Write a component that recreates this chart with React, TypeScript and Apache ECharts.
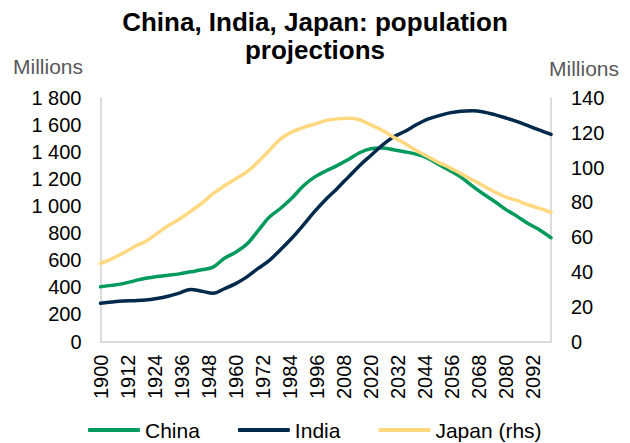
import React, { useEffect, useRef } from "react";
import * as echarts from "echarts";

// Years sampled every five years, 1900–2100
const years = [
  1900, 1905, 1910, 1915, 1920, 1925, 1930, 1935, 1940, 1945,
  1950, 1955, 1960, 1965, 1970, 1975, 1980, 1985, 1990, 1995,
  2000, 2005, 2010, 2015, 2020, 2025, 2030, 2035, 2040, 2045,
  2050, 2055, 2060, 2065, 2070, 2075, 2080, 2085, 2090, 2095, 2100,
];

// Population, millions (left axis)
const china = [
  405, 415, 428, 448, 468, 480, 490, 500, 515, 530,
  550, 615, 660, 720, 820, 920, 985, 1060, 1150, 1215,
  1260, 1300, 1345, 1395, 1425, 1430, 1418, 1403, 1385, 1358,
  1310, 1265, 1215, 1150, 1090, 1035, 975, 925, 870, 825, 767,
];

const india = [
  282, 292, 300, 302, 306, 318, 335, 358, 385, 372,
  356, 390, 428, 478, 540, 600, 680, 765, 860, 960,
  1050, 1130, 1215, 1300, 1375, 1450, 1512, 1552, 1600, 1642,
  1668, 1690, 1702, 1705, 1697, 1677, 1652, 1625, 1594, 1562, 1531,
];

// Population, millions (right axis)
const japan = [
  45, 47.5, 50.8, 54.5, 57.5, 62, 66.5, 70.3, 74.8, 79.5,
  85, 89.5, 93.5, 97.5, 103.3, 110, 116.5, 120.5, 123, 125,
  127, 128, 128.3, 127.5, 124.5, 121.5, 117.5, 114, 110, 106.5,
  103, 100, 96.5, 93, 89.5, 86, 83, 81, 78.5, 76.5, 74.3,
];

const seriesNames = ["China", "India", "Japan (rhs)"];
const seriesColors = ["#009A5E", "#002A4B", "#FFD880"];

const FONT = "'Liberation Sans', Arial, sans-serif";
const AXIS_GREY = "#D0D0D0";

const withSpace = (v: number) =>
  String(v).replace(/\B(?=(\d{3})+(?!\d))/g, " ");

export default function App() {
  const ref = useRef<HTMLDivElement>(null);

  useEffect(() => {
    if (!ref.current) return;
    const chart = echarts.init(ref.current, undefined, { renderer: "svg" });

    const pairs = (vals: number[]) => years.map((y, i) => [y, vals[i]]);

    chart.setOption({
      animation: false,
      backgroundColor: "#ffffff",
      textStyle: { fontFamily: FONT },
      title: {
        text: "China, India, Japan: population\nprojections",
        left: "center",
        top: 3,
        textStyle: {
          fontFamily: FONT,
          fontSize: 26,
          fontWeight: "bold",
          color: "#000000",
          lineHeight: 28,
        },
      },
      graphic: [
        {
          type: "text",
          x: 48,
          y: 66,
          style: {
            text: "Millions",
            align: "center",
            verticalAlign: "middle",
            fontFamily: FONT,
            fontSize: 21,
            fill: "#595959",
          },
        },
        {
          type: "text",
          x: 584,
          y: 68,
          style: {
            text: "Millions",
            align: "center",
            verticalAlign: "middle",
            fontFamily: FONT,
            fontSize: 21,
            fill: "#595959",
          },
        },
      ],
      legend: {
        data: seriesNames,
        left: 88,
        top: 418,
        itemWidth: 52,
        itemHeight: 4,
        itemGap: 38,
        icon: "roundRect",
        padding: 0,
        textStyle: {
          fontFamily: FONT,
          fontSize: 21,
          color: "#000000",
          lineHeight: 24,
        },
      },
      grid: {
        left: 100.5,
        right: 79,
        top: 98,
        bottom: 101.5,
        containLabel: false,
        outerBoundsMode: "none",
      },
      xAxis: {
        type: "value",
        min: 1900,
        max: 2100,
        interval: 12,
        axisLine: { show: true, lineStyle: { color: AXIS_GREY, width: 1.5 } },
        axisTick: { show: false },
        splitLine: { show: false },
        axisLabel: {
          rotate: 90,
          margin: 13,
          fontFamily: FONT,
          fontSize: 20,
          color: "#000000",
          showMaxLabel: false,
          formatter: (v: number) => String(v),
        },
      },
      yAxis: [
        {
          type: "value",
          min: 0,
          max: 1800,
          interval: 200,
          axisLine: { show: true, lineStyle: { color: AXIS_GREY, width: 1.5 } },
          axisTick: { show: false },
          splitLine: { show: false },
          axisLabel: {
            margin: 19,
            fontFamily: FONT,
            fontSize: 20,
            color: "#000000",
            formatter: withSpace,
          },
        },
        {
          type: "value",
          position: "right",
          min: 0,
          max: 140,
          interval: 20,
          axisLine: { show: true, lineStyle: { color: AXIS_GREY, width: 1.5 } },
          axisTick: { show: false },
          splitLine: { show: false },
          axisLabel: {
            margin: 20,
            fontFamily: FONT,
            fontSize: 20,
            color: "#000000",
          },
        },
      ],
      series: [
        {
          name: seriesNames[0],
          type: "line",
          data: pairs(china),
          smooth: 0.35,
          symbol: "none",
          color: seriesColors[0],
          lineStyle: { width: 3.5, color: seriesColors[0], cap: "round" },
        },
        {
          name: seriesNames[1],
          type: "line",
          data: pairs(india),
          smooth: 0.35,
          symbol: "none",
          color: seriesColors[1],
          lineStyle: { width: 3.5, color: seriesColors[1], cap: "round" },
        },
        {
          name: seriesNames[2],
          type: "line",
          yAxisIndex: 1,
          data: pairs(japan),
          smooth: 0.35,
          symbol: "none",
          color: seriesColors[2],
          lineStyle: { width: 3.5, color: seriesColors[2], cap: "round" },
        },
      ],
    });

    return () => chart.dispose();
  }, []);

  return (
    <div
      ref={ref}
      style={{
        position: "fixed",
        left: 0,
        top: 0,
        width: 630,
        height: 443,
        background: "#ffffff",
      }}
    />
  );
}
